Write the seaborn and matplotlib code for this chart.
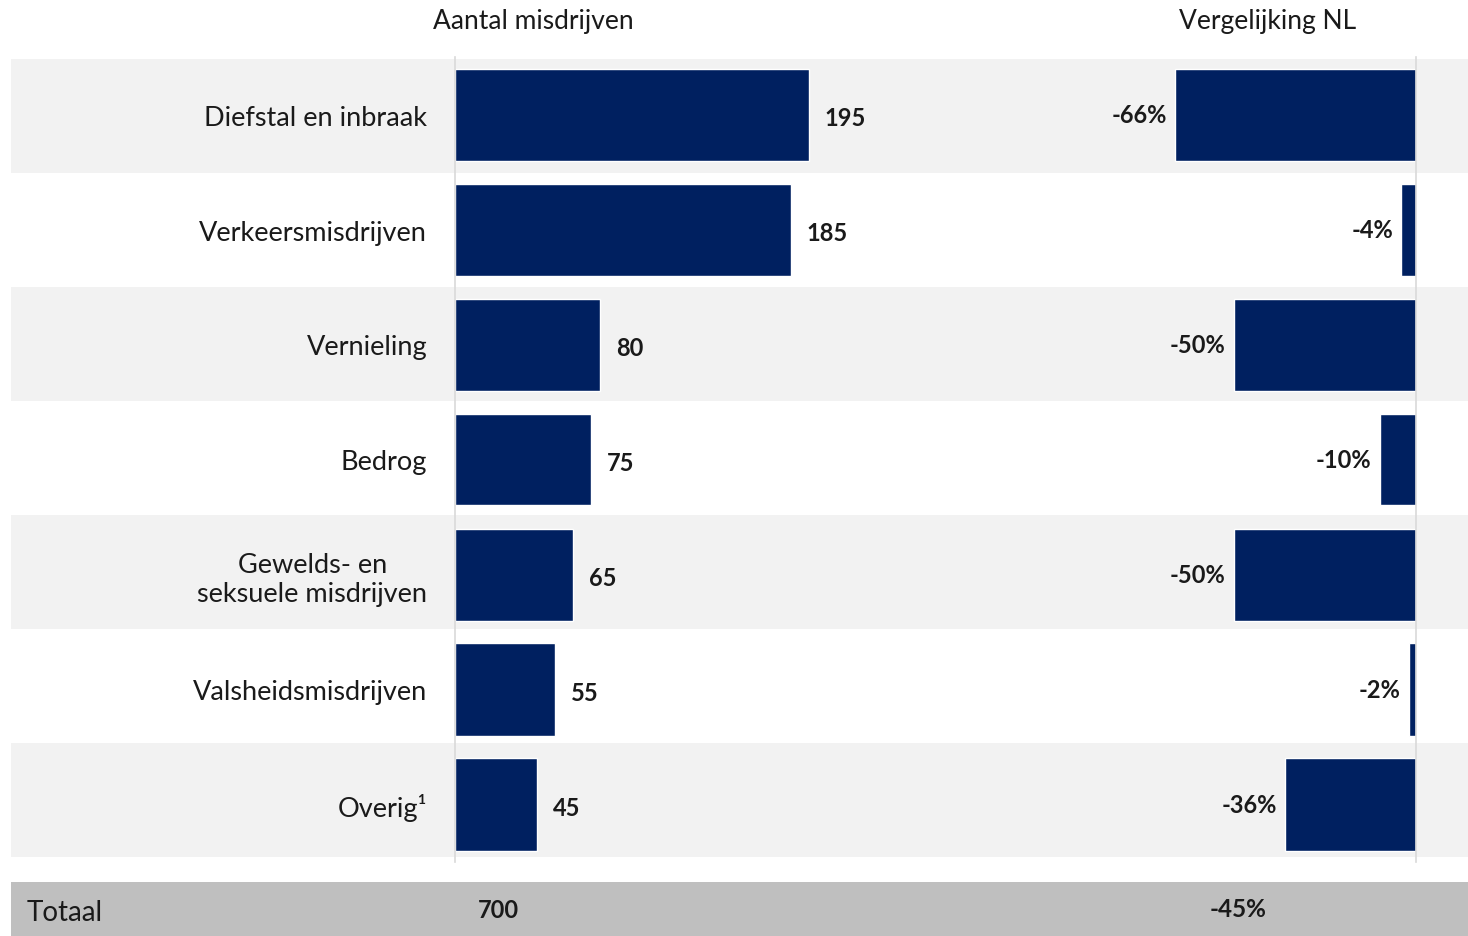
import matplotlib.pyplot as plt
import numpy as np
import pandas as pd
import seaborn as sns

categories = [
    "Diefstal en inbraak",
    "Verkeersmisdrijven",
    "Vernieling",
    "Bedrog",
    "Gewelds- en\nseksuele misdrijven",
    "Valsheidsmisdrijven",
    "Overig¹",
]
counts = [195, 185, 80, 75, 65, 55, 45]
vs_nl = [-66, -4, -50, -10, -50, -2, -36]
total_count = 700
total_vs_nl = -45

NAVY = "#002060"
BAND = "#f2f2f2"
GRID = "#d9d9d9"

sns.set_theme(style="white")
plt.rcParams["font.family"] = ["Lato", "DejaVu Sans"]

df = pd.DataFrame({"categorie": categories, "aantal": counts, "nl": vs_nl})

W, H = 1468, 937
fig = plt.figure(figsize=(W / 100, H / 100), dpi=100)


def fx(px):
    return px / W


def fy(py):
    return 1 - py / H


# alternating row bands
band_top, band_bottom = 60, 858
bg = fig.add_axes([fx(11), fy(band_bottom), fx(W - 11), (band_bottom - band_top) / H])
bg.set_xlim(0, 1)
bg.set_ylim(len(categories) - 0.5, -0.5)
for i in range(0, len(categories), 2):
    bg.axhspan(i - 0.5, i + 0.5, color=BAND, lw=0)
bg.axis("off")

# bar panels
top, bottom = 58, 863
ax_h = (bottom - top) / H

# left panel: aantal misdrijven
ax1 = fig.add_axes([fx(455), fy(bottom), fx(900 - 455), ax_h])
ax1.patch.set_alpha(0)
sns.barplot(data=df, x="aantal", y="categorie", color=NAVY, width=0.8,
            saturation=1, ax=ax1)
ax1.set_xlim(0, 445 / 1.815)
ax1.set_ylim(len(categories) - 0.5, -0.5)
ax1.set_xlabel("")
ax1.set_ylabel("")
ax1.set_xticks([])
ax1.tick_params(axis="y", length=0, pad=20, labelsize=19.5, labelcolor="#1a1a1a")
for lbl in ax1.get_yticklabels():
    lbl.set_horizontalalignment("right")
    lbl.set_multialignment("center")
for s in ["top", "right", "bottom"]:
    ax1.spines[s].set_visible(False)
ax1.spines["left"].set_color(GRID)
ax1.spines["left"].set_linewidth(1.2)
for i, v in enumerate(counts):
    ax1.annotate(str(v), (v, i), xytext=(16, -3), textcoords="offset pixels",
                 ha="left", va="center", fontsize=17, fontweight="bold",
                 color="#1a1a1a")

# right panel: vergelijking NL
ax2 = fig.add_axes([fx(1000), fy(bottom), fx(1416 - 1000), ax_h])
ax2.patch.set_alpha(0)
sns.barplot(data=df, x="nl", y="categorie", color=NAVY, width=0.8,
            saturation=1, ax=ax2)
ax2.set_xlim(-416 / 3.65, 0)
ax2.set_ylim(len(categories) - 0.5, -0.5)
ax2.set_xlabel("")
ax2.set_ylabel("")
ax2.set_xticks([])
ax2.set_yticks([])
for s in ["top", "left", "bottom"]:
    ax2.spines[s].set_visible(False)
ax2.spines["right"].set_color(GRID)
ax2.spines["right"].set_linewidth(1.2)
for i, v in enumerate(vs_nl):
    ax2.annotate(f"{v}%", (v, i), xytext=(-8, 0), textcoords="offset pixels",
                 ha="right", va="center", fontsize=17, fontweight="bold",
                 color="#1a1a1a")

# headers
fig.text(fx(533), fy(22), "Aantal misdrijven", ha="center", va="center",
         fontsize=19, color="#1a1a1a")
fig.text(fx(1268), fy(22), "Vergelijking NL", ha="center", va="center",
         fontsize=19, color="#1a1a1a")

# totaal row
tot = fig.add_axes([fx(11), 0, fx(W - 11), (H - 883) / H])
tot.set_facecolor("#bfbfbf")
for s in tot.spines.values():
    s.set_visible(False)
tot.set_xticks([])
tot.set_yticks([])
fig.text(fx(27), fy(913), "Totaal", ha="left", va="center", fontsize=20,
         color="#1a1a1a")
fig.text(fx(478), fy(911), str(total_count), ha="left", va="center",
         fontsize=17, fontweight="bold", color="#1a1a1a")
fig.text(fx(1210), fy(910), f"{total_vs_nl}%", ha="left", va="center",
         fontsize=17.5, fontweight="bold", color="#1a1a1a")

fig.savefig("out.png", dpi=100, facecolor="white")
